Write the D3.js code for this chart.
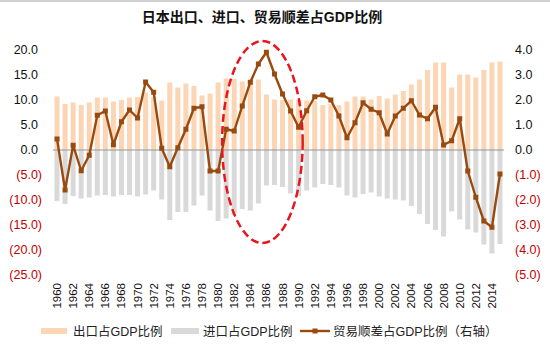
<!DOCTYPE html>
<html>
<head>
<meta charset="utf-8">
<script src="https://cdn.jsdelivr.net/npm/d3@7"></script>
<style>
  body { margin: 0; background: #fff; }
  text { font-family: "Liberation Sans", Arial, sans-serif; }
  .cjk { font-family: "Liberation Sans", "Noto Sans CJK SC", sans-serif; }
</style>
</head>
<body>
<div id="chart"></div>
<script>
const years = d3.range(1960, 2016);

// 出口占GDP比例 (%)
const exportShare = [10.7, 9.2, 9.5, 9.0, 9.5, 10.5, 10.5, 9.7, 10.0, 10.5,
  10.6, 11.5, 10.6, 9.9, 13.5, 12.5, 13.3, 12.8, 10.9, 11.3,
  13.5, 14.3, 14.2, 13.7, 14.0, 14.1, 11.1, 10.1, 10.0, 10.1,
  10.0, 9.9, 9.8, 9.0, 9.2, 9.0, 9.7, 10.7, 10.7, 10.1,
  10.8, 10.3, 11.1, 11.8, 13.1, 14.1, 16.0, 17.5, 17.5, 12.5,
  15.1, 15.1, 14.5, 16.0, 17.5, 17.7];

// 进口占GDP比例 (%), drawn below zero
const importShare = [-10.2, -10.8, -9.2, -9.7, -9.5, -9.1, -9.0, -9.3, -9.0, -9.0,
  -9.3, -8.9, -8.1, -9.9, -14.0, -12.4, -12.4, -11.1, -9.1, -12.1,
  -14.2, -13.7, -12.9, -11.8, -12.1, -10.7, -7.1, -7.0, -7.4, -8.7,
  -9.2, -8.1, -7.5, -6.8, -7.0, -7.5, -9.1, -9.5, -8.8, -8.5,
  -9.3, -9.7, -9.9, -10.1, -11.2, -12.8, -14.8, -16.0, -17.3, -12.3,
  -13.9, -15.9, -16.5, -18.9, -20.7, -18.8];

// 贸易顺差占GDP比例 (%), right axis
const balanceShare = [0.44, -1.6, 0.19, -0.83, -0.21, 1.39, 1.56, 0.21, 1.13, 1.6,
  1.28, 2.72, 2.31, 0.07, -0.67, 0.09, 0.83, 1.67, 1.73, -0.84,
  -0.84, 0.83, 0.76, 1.76, 2.71, 3.44, 3.91, 3.04, 2.24, 1.56,
  0.91, 1.57, 2.13, 2.2, 2.0, 1.36, 0.49, 1.09, 1.89, 1.63,
  1.49, 0.64, 1.36, 1.67, 1.97, 1.4, 1.25, 1.71, 0.2, 0.37,
  1.25, -0.84, -1.89, -2.84, -3.09, -0.96];

const leftTicks = [20, 15, 10, 5, 0, -5, -10, -15, -20, -25];
const rightTicks = [4, 3, 2, 1, 0, -1, -2, -3, -4, -5];
const yearLabels = years.filter(y => y % 2 === 0);

const title = "日本出口、进口、贸易顺差占GDP比例";
const legendNames = ["出口占GDP比例", "进口占GDP比例", "贸易顺差占GDP比例（右轴）"];

const width = 550;
const height = 352;
const lineColor = "#9a4a0e";
const negColor = "#c00000";

const svg = d3.select("#chart")
  .append("svg")
  .attr("width", width)
  .attr("height", height);

// thin grey frame line at the very top of the picture
svg.append("rect")
  .attr("x", 0).attr("y", 0)
  .attr("width", width).attr("height", 2)
  .attr("fill", "#d0d0d0");

const x = d3.scaleBand()
  .domain(years)
  .range([53, 504])
  .paddingInner(0.38)
  .paddingOuter(0.19);

const yL = d3.scaleLinear().domain([-25, 20]).range([275, 50]);
const yR = d3.scaleLinear().domain([-5, 4]).range([275, 50]);
const cx = d => x(d) + x.bandwidth() / 2;

// format like Excel 0.0_);(0.0)
const fmt = v => v < 0 ? `(${d3.format(".1f")(-v)})` : d3.format(".1f")(v);

// title
svg.append("text")
  .attr("class", "cjk")
  .attr("x", 262)
  .attr("y", 22)
  .attr("text-anchor", "middle")
  .style("font-size", "14px")
  .style("font-weight", "bold")
  .attr("fill", "#111")
  .text(title);

// export bars
svg.selectAll("rect.exp")
  .data(years)
  .enter()
  .append("rect")
  .attr("class", "exp")
  .attr("x", d => x(d))
  .attr("width", x.bandwidth())
  .attr("y", (d, i) => yL(exportShare[i]))
  .attr("height", (d, i) => yL(0) - yL(exportShare[i]))
  .attr("fill", "#fcd5b4");

// import bars
svg.selectAll("rect.imp")
  .data(years)
  .enter()
  .append("rect")
  .attr("class", "imp")
  .attr("x", d => x(d))
  .attr("width", x.bandwidth())
  .attr("y", yL(0))
  .attr("height", (d, i) => yL(importShare[i]) - yL(0))
  .attr("fill", "#d9d9d9");

// zero line
svg.append("line")
  .attr("x1", x.range()[0]).attr("x2", x.range()[1])
  .attr("y1", yL(0)).attr("y2", yL(0))
  .attr("stroke", "#969696")
  .attr("stroke-width", 1.2);

// left axis labels
svg.selectAll("text.yl")
  .data(leftTicks)
  .enter()
  .append("text")
  .attr("class", "yl")
  .attr("x", d => d < 0 ? 42 : 38)
  .attr("y", d => yL(d))
  .attr("dy", "0.35em")
  .attr("text-anchor", "end")
  .style("font-size", "12.5px")
  .attr("fill", d => d < 0 ? negColor : "#111")
  .text(fmt);

// right axis labels
svg.selectAll("text.yr")
  .data(rightTicks)
  .enter()
  .append("text")
  .attr("class", "yr")
  .attr("x", 515)
  .attr("y", d => yR(d))
  .attr("dy", "0.35em")
  .attr("text-anchor", "start")
  .style("font-size", "12.5px")
  .attr("fill", d => d < 0 ? negColor : "#111")
  .text(fmt);

// year labels, rotated
svg.selectAll("text.yr-lab")
  .data(yearLabels)
  .enter()
  .append("text")
  .attr("class", "yr-lab")
  .attr("transform", d => `translate(${cx(d)},283) rotate(-90)`)
  .attr("dy", "0.35em")
  .attr("text-anchor", "end")
  .style("font-size", "11.5px")
  .attr("fill", "#111")
  .text(d => d);

// trade balance line
const line = d3.line()
  .x((d, i) => cx(years[i]))
  .y(d => yR(d));

svg.append("path")
  .datum(balanceShare)
  .attr("d", line)
  .attr("fill", "none")
  .attr("stroke", lineColor)
  .attr("stroke-width", 2.4)
  .attr("stroke-linejoin", "round");

svg.selectAll("rect.mk")
  .data(balanceShare)
  .enter()
  .append("rect")
  .attr("class", "mk")
  .attr("x", (d, i) => cx(years[i]) - 2.5)
  .attr("y", d => yR(d) - 2.5)
  .attr("width", 5)
  .attr("height", 5)
  .attr("fill", lineColor);

// red dashed ellipse around the mid-80s peak
const step = x.step();
svg.append("ellipse")
  .attr("cx", cx(1985) + step / 2)
  .attr("cy", yL(1.6))
  .attr("rx", step * 5)
  .attr("ry", yL(-18.6) - yL(1.6))
  .attr("fill", "none")
  .attr("stroke", "#e8141e")
  .attr("stroke-width", 2.5)
  .attr("stroke-dasharray", "8,4");

// legend
const legend = svg.append("g").attr("transform", "translate(0,331)");

legend.append("rect")
  .attr("x", 41).attr("y", -3).attr("width", 26).attr("height", 6)
  .attr("fill", "#fcd5b4");
legend.append("rect")
  .attr("x", 171).attr("y", -3).attr("width", 28).attr("height", 6)
  .attr("fill", "#d9d9d9");
legend.append("line")
  .attr("x1", 300).attr("x2", 330).attr("y1", 0).attr("y2", 0)
  .attr("stroke", lineColor).attr("stroke-width", 2.4);
legend.append("rect")
  .attr("x", 312.5).attr("y", -2.5).attr("width", 5).attr("height", 5)
  .attr("fill", lineColor);

legend.selectAll("text")
  .data(legendNames)
  .enter()
  .append("text")
  .attr("class", "cjk")
  .attr("x", (d, i) => [73, 203, 333][i])
  .attr("y", 0)
  .attr("dy", "0.38em")
  .style("font-size", "12.5px")
  .attr("fill", "#222")
  .text(d => d);
</script>
</body>
</html>
